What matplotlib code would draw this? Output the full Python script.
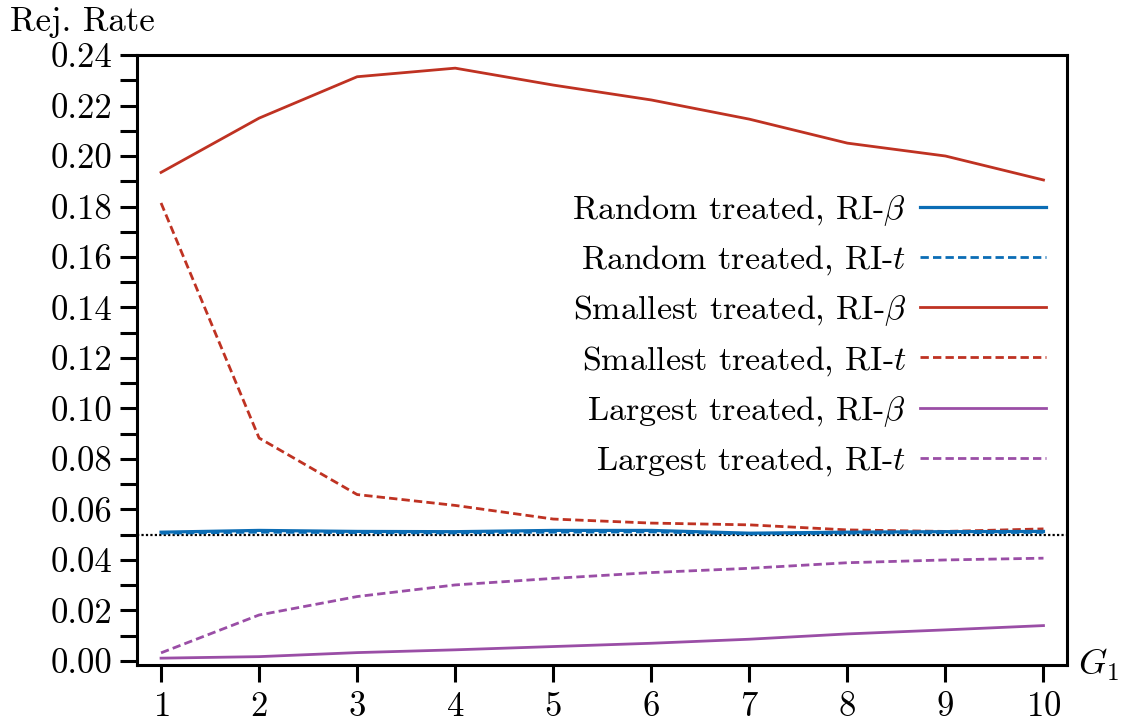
import matplotlib
matplotlib.use("Agg")
import matplotlib.pyplot as plt
import numpy as np

# ---- data ----
g1 = [1, 2, 3, 4, 5, 6, 7, 8, 9, 10]
random_beta = [0.0510, 0.0517, 0.0513, 0.0512, 0.0517, 0.0517, 0.0506, 0.0510, 0.0512, 0.0513]
random_t = [0.0506, 0.0510, 0.0508, 0.0507, 0.0510, 0.0511, 0.0503, 0.0506, 0.0508, 0.0509]
smallest_beta = [0.1935, 0.2150, 0.2314, 0.2348, 0.2281, 0.2222, 0.2146, 0.2051, 0.2000, 0.1905]
smallest_t = [0.1814, 0.0883, 0.0659, 0.0616, 0.0562, 0.0546, 0.0539, 0.0519, 0.0513, 0.0523]
largest_beta = [0.0011, 0.0017, 0.0033, 0.0044, 0.0057, 0.0070, 0.0086, 0.0107, 0.0123, 0.0140]
largest_t = [0.0032, 0.0182, 0.0255, 0.0301, 0.0327, 0.0350, 0.0367, 0.0389, 0.0400, 0.0407]
nominal = 0.05

labels = ["Random treated, RI-$\\beta$", "Random treated, RI-$t$",
          "Smallest treated, RI-$\\beta$", "Smallest treated, RI-$t$",
          "Largest treated, RI-$\\beta$", "Largest treated, RI-$t$"]

blue = "#0b6db5"
red = "#bf3222"
purple = "#9a4ea6"

plt.rcParams['font.family'] = ['cmr10', 'DejaVu Serif']
plt.rcParams['mathtext.fontset'] = 'cm'
plt.rcParams['axes.unicode_minus'] = False
plt.rcParams['axes.formatter.use_mathtext'] = True

fig = plt.figure(figsize=(11.24, 7.25), dpi=100)
ax = fig.add_axes([0.1219, 0.0828, 0.9493 - 0.1219, 0.9241 - 0.0828])

lw = 2.0
dash = (3.0, 1.5)
ax.axhline(nominal, color='black', lw=1.6, ls=(0, (1, 1)), zorder=1)
ax.plot(g1, random_beta, color=blue, lw=lw + 0.3, label=labels[0], zorder=3)
ax.plot(g1, random_t, color=blue, lw=lw, dashes=dash, label=labels[1], zorder=2)
ax.plot(g1, smallest_beta, color=red, lw=lw, label=labels[2])
ax.plot(g1, smallest_t, color=red, lw=lw, dashes=dash, label=labels[3])
ax.plot(g1, largest_beta, color=purple, lw=lw, label=labels[4])
ax.plot(g1, largest_t, color=purple, lw=lw, dashes=dash, label=labels[5])

ax.set_xlim(0.755, 10.24)
ax.set_ylim(-0.0016, 0.24)
ax.set_xticks(g1)
ax.set_yticks(np.arange(0, 0.2401, 0.02))
ax.set_yticks(np.arange(0.01, 0.24, 0.02), minor=True)
ax.yaxis.set_major_formatter(matplotlib.ticker.FormatStrFormatter('%.2f'))

for s in ax.spines.values():
    s.set_linewidth(2.2)
ax.tick_params(axis='both', which='both', direction='out', length=12, width=2.2,
               labelsize=25)
ax.tick_params(axis='y', pad=6)
ax.tick_params(axis='x', pad=7)

fig.text(0.009, 0.970, "Rej. Rate", fontsize=25, ha='left', va='center')
ax.annotate("$G_1$", xy=(1.0, 0.0), xycoords='axes fraction', xytext=(8, 0),
            textcoords='offset points', fontsize=26, ha='left', va='center')

leg = ax.legend(loc='upper right', bbox_to_anchor=(0.977, 0.774), frameon=False,
                markerfirst=False, fontsize=24.5, handlelength=3.7, handletextpad=0.4,
                labelspacing=0.465, borderpad=0, borderaxespad=0)
for t in leg.get_texts():
    t.set_ha('right')

fig.savefig("out.png", dpi=100)
